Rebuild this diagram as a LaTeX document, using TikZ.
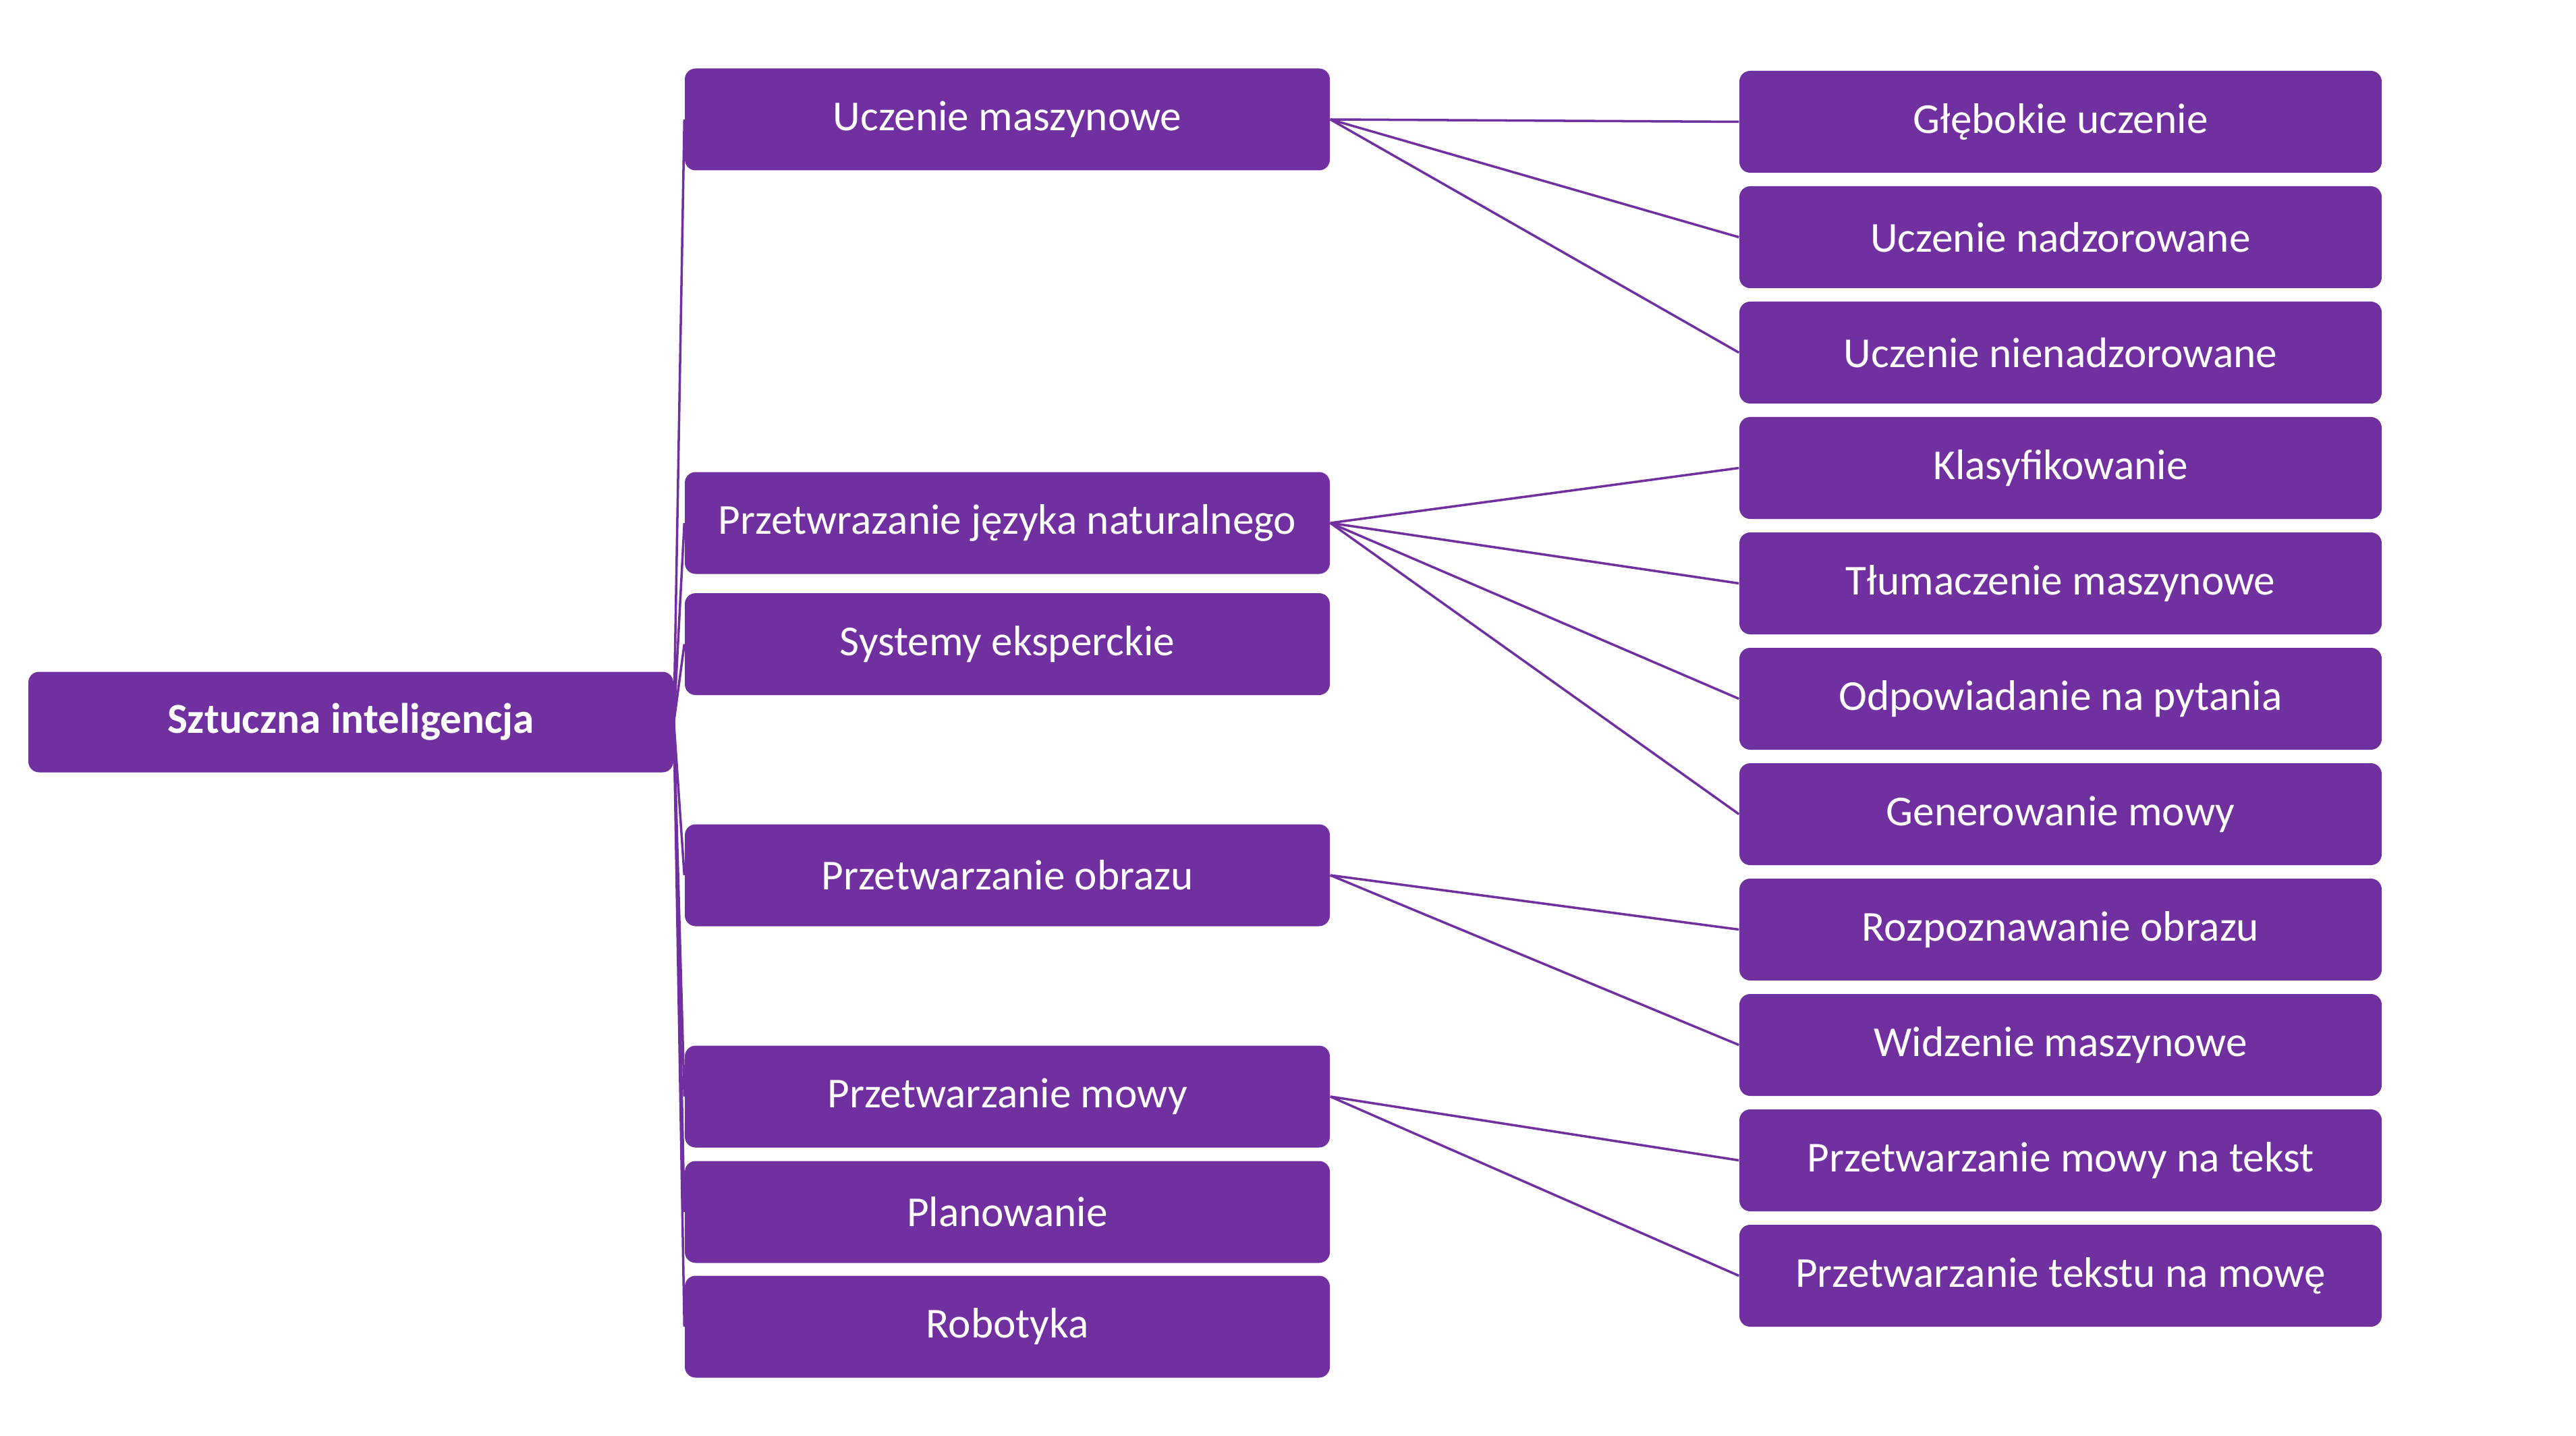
\documentclass[tikz,border=0pt]{standalone}
\usepackage{fontspec}
\setmainfont{Carlito}
\usetikzlibrary{backgrounds}
\definecolor{aipurple}{HTML}{7030A0}
\tikzset{
  box/.style={rectangle, rounded corners=0.16cm, fill=aipurple, draw=none,
    text=white, minimum height=1.51cm, inner sep=0pt,
    font=\fontsize{18}{22}\selectfont},
  midbox/.style={box, minimum width=9.56cm},
  rightbox/.style={box, minimum width=9.52cm},
  rootbox/.style={box, minimum width=9.56cm, minimum height=1.49cm,
    font=\fontsize{18}{22}\selectfont\bfseries},
  link/.style={draw=aipurple, line width=1pt}
}
\begin{document}
\begin{tikzpicture}
\useasboundingbox (0,0) rectangle (38.18,-21.28);
% root
\node[rootbox] (root) at (5.20,-10.70) {Sztuczna inteligencja};
% middle column
\node[midbox] (um) at (14.93,-1.77) {Uczenie maszynowe};
\node[midbox] (nlp) at (14.93,-7.75) {Przetwrazanie języka naturalnego};
\node[midbox] (se) at (14.93,-9.545) {Systemy eksperckie};
\node[midbox] (po) at (14.93,-12.97) {Przetwarzanie obrazu};
\node[midbox] (pm) at (14.93,-16.25) {Przetwarzanie mowy};
\node[midbox] (pl) at (14.93,-17.96) {Planowanie};
\node[midbox] (ro) at (14.93,-19.66) {Robotyka};
% right column
\node[rightbox] (r1) at (30.54,-1.805) {Głębokie uczenie};
\node[rightbox] (r2) at (30.54,-3.515) {Uczenie nadzorowane};
\node[rightbox] (r3) at (30.54,-5.225) {Uczenie nienadzorowane};
\node[rightbox] (r4) at (30.54,-6.935) {Klasyfikowanie};
\node[rightbox] (r5) at (30.54,-8.645) {Tłumaczenie maszynowe};
\node[rightbox] (r6) at (30.54,-10.355) {Odpowiadanie na pytania};
\node[rightbox] (r7) at (30.54,-12.065) {Generowanie mowy};
\node[rightbox] (r8) at (30.54,-13.775) {Rozpoznawanie obrazu};
\node[rightbox] (r9) at (30.54,-15.485) {Widzenie maszynowe};
\node[rightbox] (r10) at (30.54,-17.195) {Przetwarzanie mowy na tekst};
\node[rightbox] (r11) at (30.54,-18.905) {Przetwarzanie tekstu na mowę};
% connectors
\begin{scope}[on background layer]
\foreach \m in {um,nlp,se,po,pm,pl,ro}{
  \draw[link] (root.east) -- (\m.west);
}
\foreach \r in {r1,r2,r3}{ \draw[link] (um.east) -- (\r.west); }
\foreach \r in {r4,r5,r6,r7}{ \draw[link] (nlp.east) -- (\r.west); }
\foreach \r in {r8,r9}{ \draw[link] (po.east) -- (\r.west); }
\foreach \r in {r10,r11}{ \draw[link] (pm.east) -- (\r.west); }
\end{scope}
\end{tikzpicture}
\end{document}
